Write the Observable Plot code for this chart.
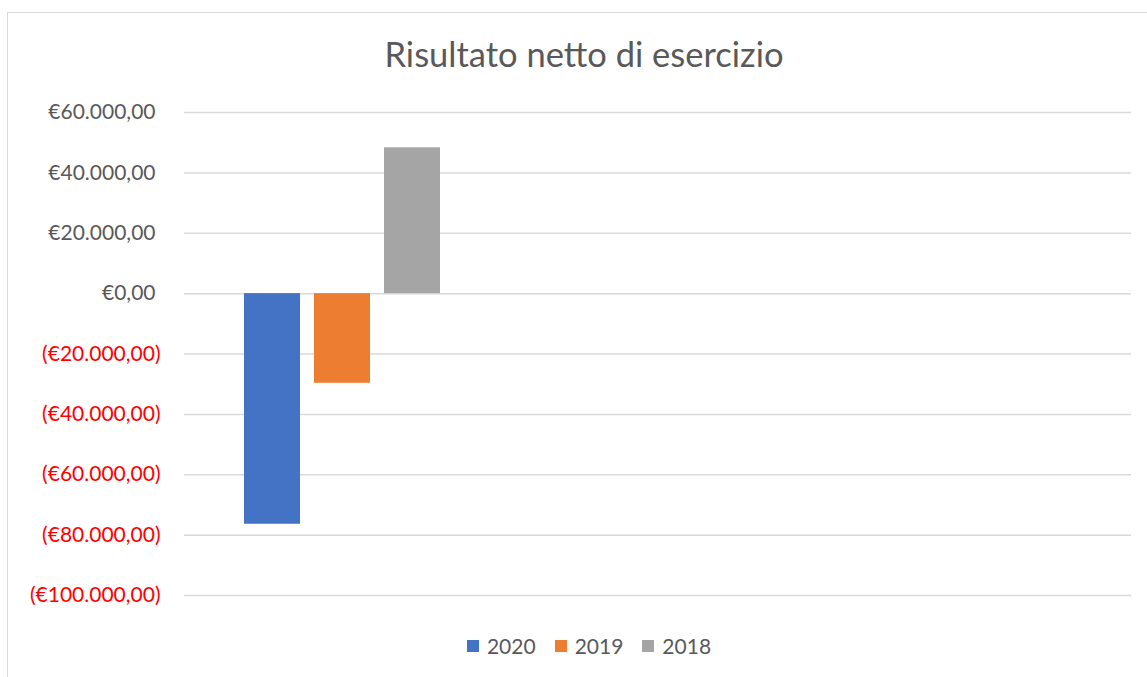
<!DOCTYPE html>
<html>
<head>
<meta charset="utf-8">
<script src="https://cdn.jsdelivr.net/npm/d3@7"></script>
<script src="https://cdn.jsdelivr.net/npm/@observablehq/plot@0.6"></script>
<style>
  html, body { margin: 0; padding: 0; background: #fff; }
  #wrap { position: relative; width: 1147px; height: 677px; overflow: hidden; font-family: Lato, "Open Sans", sans-serif; color: #595959; }
  #border { position: absolute; left: 7px; top: 12px; width: 1300px; height: 800px; border: 1.5px solid #d9d9d9; box-sizing: border-box; }
  #title { position: absolute; left: 0; width: 1168px; top: 34px; text-align: center; font-size: 34.5px; line-height: 40px; color: #595959; }
  #chart { position: absolute; left: 0; top: 0; }
  #legend { position: absolute; left: 0; width: 1178px; top: 634px; display: flex; justify-content: center; gap: 19px; font-size: 21px; line-height: 24px; }
  .item { display: flex; align-items: center; gap: 8px; }
  .sw { width: 12px; height: 12px; display: inline-block; }
</style>
</head>
<body>
<div id="wrap">
  <div id="border"></div>
  <div id="chart"></div>
  <div id="title">Risultato netto di esercizio</div>
  <div id="legend"></div>
</div>
<script>
const years = ["2020", "2019", "2018"];
const values = [-76400, -29700, 48300];
const colors = ["#4472C4", "#ED7D31", "#A5A5A5"];
const yTicks = [60000, 40000, 20000, 0, -20000, -40000, -60000, -80000, -100000];

const data = years.map((y, i) => ({year: y, value: values[i]}));

const fmtNum = v => "€" + d3.format(",.2f")(Math.abs(v)).replace(/,/g, "X").replace(/\./g, ",").replace(/X/g, ".");
const fmt = v => v < 0 ? "(" + fmtNum(v) + ")" : fmtNum(v);

const chart = Plot.plot({
  width: 1147,
  height: 677,
  marginLeft: 184,
  marginRight: 16,
  marginTop: 112,
  marginBottom: 82,
  style: {fontFamily: "Lato, 'Open Sans', sans-serif", fontSize: "21px", background: "transparent"},
  x: {domain: years, range: [244, 440], paddingInner: 0.2, paddingOuter: 0, axis: null},
  y: {domain: [-100000, 60000], axis: null},
  color: {domain: years, range: colors},
  marks: [
    Plot.gridY(yTicks, {stroke: "#d9d9d9", strokeOpacity: 1, strokeWidth: 1.5}),
    Plot.barY(data, {x: "year", y: "value", fill: "year"}),
    Plot.text(yTicks.filter(d => d >= 0), {y: d => d, text: fmt, frameAnchor: "left", textAnchor: "end", dx: -29, fill: "#595959"}),
    Plot.text(yTicks.filter(d => d < 0), {y: d => d, text: fmt, frameAnchor: "left", textAnchor: "end", dx: -24, fill: "#ff0000"})
  ]
});
document.getElementById("chart").appendChild(chart);

const legend = document.getElementById("legend");
years.forEach((y, i) => {
  const it = document.createElement("div");
  it.className = "item";
  it.innerHTML = `<span class="sw" style="background:${colors[i]}"></span><span>${y}</span>`;
  legend.appendChild(it);
});
</script>
</body>
</html>
